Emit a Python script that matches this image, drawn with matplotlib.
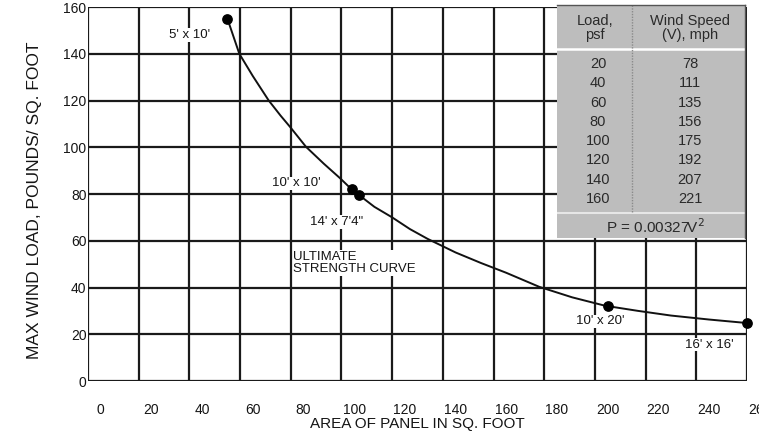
import matplotlib
matplotlib.use('Agg')
import matplotlib.pyplot as plt
import matplotlib.transforms as mtransforms

plt.rcParams['font.family'] = ['Liberation Sans', 'DejaVu Sans']

# curve (area sq ft, load psf)
curva_x = [50, 54.7, 60, 66.3, 71, 74.8, 81, 88, 94.5, 99, 102, 108, 115, 122, 129, 140, 150, 160, 173, 186, 199, 212, 225, 240, 254]
curva_y = [155, 140, 130.5, 120, 113.5, 108.6, 100.2, 93, 86.7, 82, 79.5, 74.5, 70, 65, 60.8, 55, 50.5, 46.3, 40.3, 35.8, 32.2, 30, 28, 26.3, 24.9]

# panels marked on the curve
paneles_x = [50, 99, 102, 200, 255]
paneles_y = [155, 82, 79.5, 32, 25]
paneles_txt = ["5' x 10'", "10' x 10'", "14' x 7'4\"", "10' x 20'", "16' x 16'"]
paneles_lbl_x = [35, 77, 93, 197, 240]
paneles_lbl_y = [148, 84.5, 68, 25.5, 15.5]

# table
carga_psf = [20, 40, 60, 80, 100, 120, 140, 160]
viento_mph = [78, 111, 135, 156, 175, 192, 207, 221]

x_ticks = list(range(0, 261, 20))
y_ticks = list(range(0, 161, 20))

tinta = '#151515'

W, H = 759, 436
fig = plt.figure(figsize=(W / 100, H / 100), dpi=100)
ax = fig.add_axes([88 / W, 1 - 381 / H, (747 - 88) / W, (381 - 7) / H])
ax.set_xlim(-5, 255)
ax.set_ylim(0, 160)

# grid lines (vertical ones sit between the tick labels, like the original)
for gx in range(-5, 256, 20):
    ax.axvline(gx, color='#1a1a1a', lw=1.6, zorder=1)
for gy in y_ticks:
    ax.axhline(gy, color='#1a1a1a', lw=1.6, zorder=1)
for s in ax.spines.values():
    s.set_visible(False)

ax.set_xticks([])
ax.set_yticks(y_ticks)
ax.set_yticklabels([str(v) for v in y_ticks], fontsize=10, color=tinta)
ax.tick_params(axis='y', length=0, pad=1)

trans = mtransforms.blended_transform_factory(ax.transData, ax.transAxes)
for xv in x_ticks:
    ax.text(xv, -0.078, str(xv), transform=trans, ha='center', va='center',
            fontsize=10, color=tinta, clip_on=False)

ax.text(0.5, -0.115, 'AREA OF PANEL IN SQ. FOOT', transform=ax.transAxes,
        ha='center', va='center', fontsize=11, color=tinta)
fig.text(35 / W, 1 - 200 / H, 'MAX WIND LOAD, POUNDS/ SQ. FOOT', rotation=90,
         ha='center', va='center', fontsize=12.5, color=tinta)

ax.plot(curva_x, curva_y, color='#111111', lw=1.4, zorder=3, clip_on=False)
ax.scatter(paneles_x, paneles_y, s=45, color='#000000', zorder=4, clip_on=False)
for tx, ty, t in zip(paneles_lbl_x, paneles_lbl_y, paneles_txt):
    ax.text(tx, ty, t, ha='center', va='center', fontsize=9.5, color=tinta, zorder=5,
            bbox=dict(facecolor='white', edgecolor='none', pad=0.5))

ax.text(76, 50.5, 'ULTIMATE\nSTRENGTH CURVE', ha='left', va='center', fontsize=9.5,
        color=tinta, linespacing=1.0, zorder=5,
        bbox=dict(facecolor='white', edgecolor='none', pad=0.5))

# load / wind speed table box
tx0, tx1, ty0, ty1 = 557, 745, 5, 238
tax = fig.add_axes([tx0 / W, 1 - ty1 / H, (tx1 - tx0) / W, (ty1 - ty0) / H])
tax.set_xlim(tx0, tx1)
tax.set_ylim(ty1, ty0)
tax.set_facecolor('#bdbdbd')
tax.set_xticks([])
tax.set_yticks([])
for k, s in tax.spines.items():
    s.set_color('#555555')
    s.set_linewidth(1.0)
tax.spines['left'].set_visible(False)
tax.spines['bottom'].set_visible(False)

tax.axhline(49, color='white', lw=1.8)
tax.axhline(213, color='#e6e6e6', lw=1.5)
tax.plot([632, 632], [5, 213], color='#8a8a8a', lw=1.0, ls=(0, (1, 1)))

col_izq, col_der = 598, 690
tax.text(col_izq - 3, 28, 'Load,\npsf', ha='center', va='center', fontsize=10.5,
         color='#2a2a2a', linespacing=0.95)
tax.text(col_der, 28, 'Wind Speed\n(V), mph', ha='center', va='center', fontsize=10.5,
         color='#2a2a2a', linespacing=0.95)
for i, (c, v) in enumerate(zip(carga_psf, viento_mph)):
    yy = 64 + i * 19.3
    tax.text(col_izq, yy, str(c), ha='center', va='center', fontsize=10.5, color='#2a2a2a')
    tax.text(col_der, yy, str(v), ha='center', va='center', fontsize=10.5, color='#2a2a2a')
tax.text(655, 227, 'P = 0.00327V$^2$', ha='center', va='center', fontsize=11,
         color='#2a2a2a')

fig.savefig('out.png', dpi=100)
